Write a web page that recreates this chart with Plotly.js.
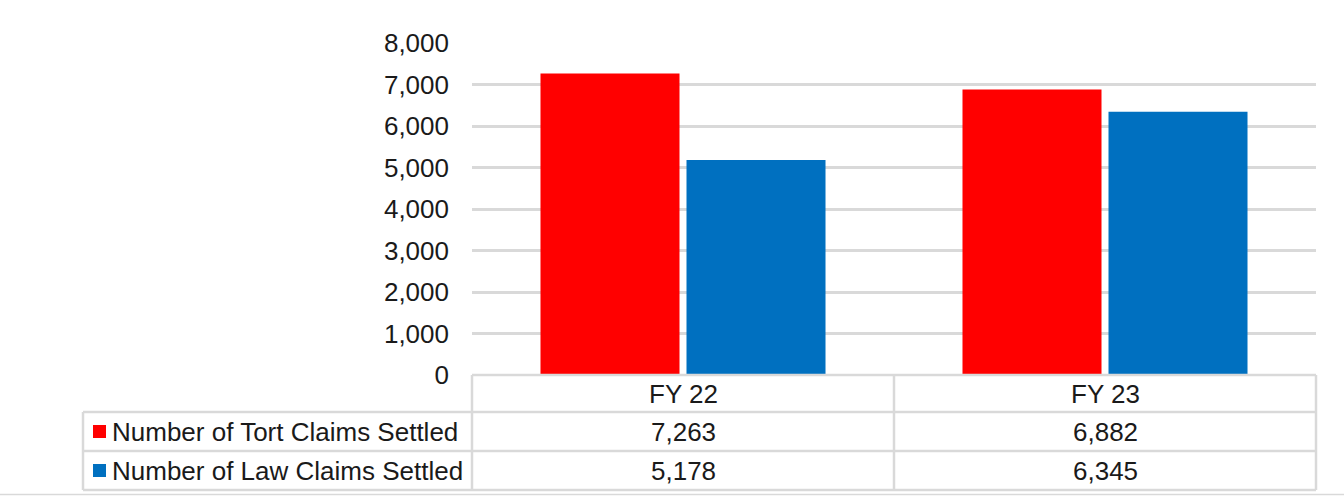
<!DOCTYPE html>
<html>
<head>
<meta charset="utf-8">
<script src="https://cdn.plot.ly/plotly-3.0.1.min.js"></script>
<style>html,body{margin:0;padding:0;background:#fff;}#chart{width:1344px;height:496px;}</style>
</head>
<body>
<div id="chart"></div>
<script>
var categories = ["FY 22", "FY 23"];
var seriesNames = ["Number of Tort Claims Settled", "Number of Law Claims Settled"];
var tortClaims = [7263, 6882];
var lawClaims = [5178, 6345];
var yTicks = [0, 1000, 2000, 3000, 4000, 5000, 6000, 7000, 8000];

var colors = ["#ff0000", "#0070c0"];
var W = 1344, H = 496;
var L = 472, R = 1316, T = 43, B = 375;
function px(x){ return (x - L) / (R - L); }
function py(y){ return (B - y) / (B - T); }
function fmt(v){ return v.toLocaleString("en-US"); }

var font = {family: "Liberation Sans, Arial, sans-serif", size: 26, color: "#1a1a1a"};
var grid = "#d9d9d9";

var traces = [
  {type: "bar", x: categories, y: tortClaims, name: seriesNames[0], marker: {color: colors[0]}, hoverinfo: "y"},
  {type: "bar", x: categories, y: lawClaims, name: seriesNames[1], marker: {color: colors[1]}, hoverinfo: "y"}
];

var rowY = [375, 412, 451, 490];
var colX = [83, 472, 894, 1316];
var shapes = [];
var annotations = [];
function line(x0, y0, x1, y1){
  shapes.push({type: "line", xref: "paper", yref: "paper", x0: px(x0), y0: py(y0), x1: px(x1), y1: py(y1), line: {color: grid, width: 2.5}});
}
line(colX[1], rowY[0], colX[3], rowY[0]);
line(colX[0], rowY[1], colX[3], rowY[1]);
line(colX[0], rowY[2], colX[3], rowY[2]);
line(colX[0], rowY[3], colX[3], rowY[3]);
line(colX[0], rowY[1], colX[0], rowY[3]);
line(colX[1], rowY[0], colX[1], rowY[3]);
line(colX[2], rowY[0], colX[2], rowY[3]);
line(colX[3], rowY[0], colX[3], rowY[3]);
shapes.push({type: "line", xref: "paper", yref: "paper", x0: px(0), y0: py(494.5), x1: px(1344), y1: py(494.5), line: {color: grid, width: 1.5}});

var rowsData = [tortClaims, lawClaims];
categories.forEach(function(c, i){
  var cx = (colX[i+1] + colX[i+2]) / 2;
  annotations.push({xref: "paper", yref: "paper", x: px(cx), y: py((rowY[0]+rowY[1])/2), text: c, showarrow: false, font: font, xanchor: "center", yanchor: "middle"});
  rowsData.forEach(function(arr, r){
    annotations.push({xref: "paper", yref: "paper", x: px(cx), y: py((rowY[r+1]+rowY[r+2])/2), text: fmt(arr[i]), showarrow: false, font: font, xanchor: "center", yanchor: "middle"});
  });
});
seriesNames.forEach(function(n, r){
  var cy = (rowY[r+1] + rowY[r+2]) / 2;
  shapes.push({type: "rect", xref: "paper", yref: "paper", x0: px(93), x1: px(106), y0: py(cy - 6.5), y1: py(cy + 6.5), fillcolor: colors[r], line: {width: 0}});
  annotations.push({xref: "paper", yref: "paper", x: px(110), y: py(cy), text: n, showarrow: false, font: font, xanchor: "left", yanchor: "middle"});
});

var layout = {
  width: W, height: H,
  margin: {l: L, r: W - R, t: T, b: H - B, pad: 0},
  paper_bgcolor: "#ffffff", plot_bgcolor: "#ffffff",
  showlegend: false,
  barmode: "group", bargap: 0.308, bargroupgap: 0.048,
  font: font,
  xaxis: {showticklabels: false, ticks: "", showgrid: false, zeroline: false, showline: false, fixedrange: true},
  yaxis: {range: [0, 8000], tickvals: yTicks, ticktext: yTicks.map(fmt), showgrid: true, gridcolor: grid, gridwidth: 3,
          zeroline: false, showline: false, ticks: "", ticklabelstandoff: 22, tickfont: font, fixedrange: true},
  shapes: shapes,
  annotations: annotations
};
Plotly.newPlot("chart", traces, layout, {displayModeBar: false, staticPlot: true});
</script>
</body>
</html>
